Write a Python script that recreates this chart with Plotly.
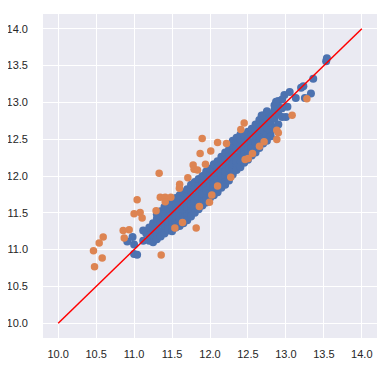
import plotly.graph_objects as go

# Training predictions (actual, predicted) - blue
train_points = [
    (10.91, 11.11), (10.98, 11.17), (11.00, 11.07), (11.00, 10.94), (11.04, 10.93),
    (11.12, 11.12), (11.12, 11.26), (11.16, 11.22),
    (11.20, 11.20), (11.20, 11.30), (11.20, 11.12),
    (11.25, 11.18), (11.25, 11.28), (11.25, 11.36), (11.25, 11.10),
    (11.30, 11.22), (11.30, 11.32), (11.30, 11.42), (11.30, 11.14), (11.30, 11.48),
    (11.35, 11.25), (11.35, 11.36), (11.35, 11.46), (11.35, 11.18), (11.35, 11.52),
    (11.40, 11.28), (11.40, 11.40), (11.40, 11.50), (11.40, 11.22), (11.40, 11.58), (11.40, 11.33),
    (11.45, 11.32), (11.45, 11.44), (11.45, 11.55), (11.45, 11.26), (11.45, 11.62), (11.45, 11.38),
    (11.50, 11.36), (11.50, 11.48), (11.50, 11.58), (11.50, 11.30), (11.50, 11.66), (11.50, 11.42), (11.50, 11.25),
    (11.55, 11.40), (11.55, 11.52), (11.55, 11.62), (11.55, 11.34), (11.55, 11.70), (11.55, 11.46), (11.55, 11.30),
    (11.60, 11.44), (11.60, 11.56), (11.60, 11.66), (11.60, 11.38), (11.60, 11.74), (11.60, 11.50), (11.60, 11.32),
    (11.65, 11.48), (11.65, 11.60), (11.65, 11.70), (11.65, 11.42), (11.65, 11.78), (11.65, 11.55), (11.65, 11.36),
    (11.70, 11.52), (11.70, 11.64), (11.70, 11.74), (11.70, 11.46), (11.70, 11.82), (11.70, 11.58), (11.70, 11.40),
    (11.75, 11.56), (11.75, 11.68), (11.75, 11.80), (11.75, 11.50), (11.75, 11.88), (11.75, 11.62), (11.75, 11.45),
    (11.80, 11.60), (11.80, 11.72), (11.80, 11.84), (11.80, 11.55), (11.80, 11.92), (11.80, 11.66), (11.80, 11.50),
    (11.85, 11.66), (11.85, 11.78), (11.85, 11.88), (11.85, 11.60), (11.85, 11.96), (11.85, 11.72), (11.85, 11.55),
    (11.90, 11.70), (11.90, 11.82), (11.90, 11.92), (11.90, 11.64), (11.90, 12.00), (11.90, 11.76), (11.90, 11.60),
    (11.95, 11.75), (11.95, 11.86), (11.95, 11.98), (11.95, 11.68), (11.95, 12.06), (11.95, 11.80), (11.95, 11.64),
    (12.00, 11.80), (12.00, 11.92), (12.00, 12.02), (12.00, 11.72), (12.00, 12.10), (12.00, 11.86), (12.00, 11.70),
    (12.05, 11.85), (12.05, 11.96), (12.05, 12.08), (12.05, 11.78), (12.05, 12.16), (12.05, 11.90), (12.05, 11.74),
    (12.10, 11.90), (12.10, 12.02), (12.10, 12.12), (12.10, 11.82), (12.10, 12.20), (12.10, 11.96), (12.10, 11.78),
    (12.15, 11.95), (12.15, 12.06), (12.15, 12.18), (12.15, 11.88), (12.15, 12.26), (12.15, 12.00), (12.15, 11.84),
    (12.20, 12.00), (12.20, 12.12), (12.20, 12.22), (12.20, 11.92), (12.20, 12.32), (12.20, 12.06), (12.20, 11.88),
    (12.25, 12.05), (12.25, 12.16), (12.25, 12.28), (12.25, 11.98), (12.25, 12.36), (12.25, 12.10), (12.25, 11.94),
    (12.30, 12.10), (12.30, 12.22), (12.30, 12.32), (12.30, 12.02), (12.30, 12.42), (12.30, 12.16), (12.30, 12.48),
    (12.35, 12.15), (12.35, 12.26), (12.35, 12.38), (12.35, 12.08), (12.35, 12.46), (12.35, 12.20), (12.35, 12.52),
    (12.40, 12.20), (12.40, 12.32), (12.40, 12.42), (12.40, 12.12), (12.40, 12.50), (12.40, 12.26), (12.40, 12.56),
    (12.45, 12.25), (12.45, 12.36), (12.45, 12.48), (12.45, 12.18), (12.45, 12.56), (12.45, 12.30),
    (12.50, 12.30), (12.50, 12.42), (12.50, 12.52), (12.50, 12.22), (12.50, 12.60), (12.50, 12.36),
    (12.55, 12.35), (12.55, 12.46), (12.55, 12.58), (12.55, 12.28), (12.55, 12.64), (12.55, 12.40),
    (12.60, 12.40), (12.60, 12.52), (12.60, 12.62), (12.60, 12.32), (12.60, 12.70), (12.60, 12.46),
    (12.65, 12.46), (12.65, 12.56), (12.65, 12.68), (12.65, 12.38), (12.65, 12.76),
    (12.70, 12.50), (12.70, 12.62), (12.70, 12.72), (12.70, 12.44), (12.70, 12.82),
    (12.75, 12.56), (12.75, 12.66), (12.75, 12.78), (12.75, 12.48), (12.75, 12.86),
    (12.80, 12.60), (12.80, 12.72), (12.80, 12.84), (12.80, 12.54),
    (12.85, 12.66), (12.85, 12.78), (12.85, 12.90), (12.85, 12.96),
    (12.90, 12.70), (12.90, 12.84), (12.90, 12.94), (12.90, 13.02),
    (12.95, 12.80), (12.95, 12.92), (12.95, 13.04),
    (13.00, 12.80), (13.02, 12.94), (12.98, 13.10), (13.05, 13.14), (13.13, 13.06),
    (13.20, 13.20), (13.23, 13.22), (13.25, 13.06), (13.33, 13.12), (13.36, 13.32),
    (13.53, 13.56), (13.54, 13.60), (12.87, 13.01), (12.75, 12.88), (12.68, 12.82),
]

# Test predictions (actual, predicted) - orange
test_points = [
    (10.465, 10.986), (10.479, 10.766), (10.54, 11.09), (10.593, 11.171), (10.58, 10.887),
    (10.856, 11.261), (10.935, 11.27), (10.87, 11.158), (11.04, 11.676), (11.00, 11.486),
    (11.08, 11.505), (11.106, 11.428), (11.33, 12.036), (11.29, 11.527), (11.345, 11.712),
    (11.41, 11.71), (11.41, 11.65), (11.484, 11.71), (11.357, 10.928), (11.537, 11.293),
    (11.638, 11.369), (11.60, 11.887), (11.597, 11.833), (11.708, 11.977), (11.778, 12.149),
    (11.79, 12.09), (11.835, 12.08), (11.818, 11.293), (11.86, 11.585), (11.87, 12.306),
    (11.897, 12.509), (11.94, 12.158), (11.993, 11.644), (12.024, 11.743), (12.01, 12.338),
    (12.10, 11.865), (12.10, 12.455), (12.217, 12.441), (12.274, 11.982), (12.406, 12.631),
    (12.45, 12.72), (12.463, 12.225), (12.503, 12.239), (12.56, 12.306), (12.652, 12.405),
    (12.713, 12.464), (12.88, 12.62), (12.90, 12.586), (12.88, 12.495), (13.082, 12.824),
    (13.276, 13.05),
]

line_x = [10, 14]
line_y = [10, 14]
tick_vals = [10.0, 10.5, 11.0, 11.5, 12.0, 12.5, 13.0, 13.5, 14.0]
tick_text = ["10.0", "10.5", "11.0", "11.5", "12.0", "12.5", "13.0", "13.5", "14.0"]

fig = go.Figure()
fig.add_trace(go.Scatter(
    x=[p[0] for p in train_points], y=[p[1] for p in train_points],
    mode="markers", marker=dict(color="#4C72B0", size=8, line=dict(width=0)),
    showlegend=False))
fig.add_trace(go.Scatter(
    x=[p[0] for p in test_points], y=[p[1] for p in test_points],
    mode="markers", marker=dict(color="#DD8452", size=7.5, line=dict(width=0)),
    showlegend=False))
fig.add_trace(go.Scatter(
    x=line_x, y=line_y, mode="lines",
    line=dict(color="red", width=1.5), showlegend=False))

axis_common = dict(
    range=[9.8, 14.2], tickvals=tick_vals, ticktext=tick_text,
    showgrid=True, gridcolor="white", gridwidth=1, zeroline=False,
    showline=False, ticks="", automargin=False,
    tickfont=dict(family="Liberation Sans, Arial", size=11, color="#262626"),
)
# the page body adds an 8px offset at top-left
fig.update_layout(
    width=381, height=361,
    margin=dict(l=35, r=12, t=6, b=31, autoexpand=False),
    paper_bgcolor="white", plot_bgcolor="#EAEAF2",
    xaxis=dict(**axis_common, ticklabelstandoff=8),
    yaxis=dict(**axis_common, ticklabelstandoff=14),
)
fig.write_html("out.html")
